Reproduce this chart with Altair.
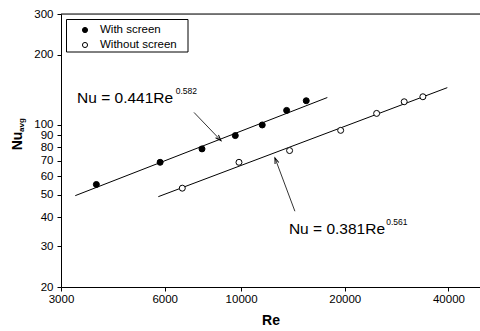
import altair as alt
import pandas as pd

FONT = "Liberation Sans"

# Measured data
re_with = [3800, 5820, 7700, 9620, 11520, 13560, 15460]
nu_with = [55.3, 68.9, 78.7, 89.8, 99.8, 115.3, 126.9]
re_without = [6750, 9860, 13830, 19460, 24750, 29760, 33720]
nu_without = [53.3, 68.9, 77.4, 94.6, 111.9, 125.6, 132.0]

# Fit lines (endpoints)
fit_re = [3300, 17800, 5750, 39700]
fit_nu = [49.5, 131.0, 49.0, 144.5]
fit_id = ["with", "with", "without", "without"]

# Arrows: tail and tip
arrow_re = [7300, 8740, 14330, 12540]
arrow_nu = [113.0, 85.5, 42.4, 72.0]
arrow_id = ["a1", "a1", "a2", "a2"]
tip_re = [8740, 12540]
tip_nu = [85.5, 72.0]
tip_angle = [136.6, 339.5]

# Equation labels
eq_main = ["Nu = 0.441Re", "Nu = 0.381Re"]
eq_re = [3340, 13770]
eq_nu = [124.4, 34.0]
eq_sup = ["0.582", "0.561"]
sup_re = [6460, 26400]
sup_nu = [136.0, 37.0]

# Legend
series_names = ["With screen", "Without screen"]
series_fill = ["black", "white"]

x_ticks = [3000, 6000, 10000, 20000, 40000]
y_ticks = [20, 30, 40, 50, 60, 70, 80, 90, 100, 200, 300]

pts = pd.DataFrame({
    "Re": re_with + re_without,
    "Nu": nu_with + nu_without,
    "series": [series_names[0]] * len(re_with) + [series_names[1]] * len(re_without),
})
fits = pd.DataFrame({"Re": fit_re, "Nu": fit_nu, "id": fit_id})
arrows = pd.DataFrame({"Re": arrow_re, "Nu": arrow_nu, "id": arrow_id})
tips = pd.DataFrame({"Re": tip_re, "Nu": tip_nu, "angle": tip_angle})
eqs = pd.DataFrame({"Re": eq_re, "Nu": eq_nu, "t": eq_main})
sups = pd.DataFrame({"Re": sup_re, "Nu": sup_nu, "t": eq_sup})

xscale = alt.Scale(type="log", domain=[3000, 49400], nice=False)
yscale = alt.Scale(type="log", domain=[20, 300], nice=False)
fill_scale = alt.Scale(domain=series_names, range=series_fill)

xenc = alt.X("Re:Q", scale=xscale, axis=alt.Axis(
    values=x_ticks, format="d", title="Re", grid=False,
    titleFont=FONT, titleFontSize=14, titleFontWeight="bold", titlePadding=9,
    labelFont=FONT, labelFontSize=11.5, labelPadding=2, tickSize=4,
    labelColor="black", tickColor="black", domainColor="black", titleColor="black",
    labelFlush=False, labelOverlap=False))
yenc = alt.Y("Nu:Q", scale=yscale, axis=alt.Axis(
    values=y_ticks, format="d", title=None, grid=False,
    labelFont=FONT, labelFontSize=11.5, labelPadding=4, tickSize=4,
    labelColor="black", tickColor="black", domainColor="black",
    labelFlush=False, labelOverlap=False))

fit_layer = alt.Chart(fits).mark_line(color="black", strokeWidth=1).encode(
    x=xenc, y=yenc, detail="id:N")

point_layer = alt.Chart(pts).mark_point(
    shape="circle", filled=True, stroke="black", strokeWidth=1, size=36, opacity=1
).encode(
    x="Re:Q", y="Nu:Q",
    fill=alt.Fill("series:N", scale=fill_scale, legend=None),
)

arrow_layer = alt.Chart(arrows).mark_line(color="black", strokeWidth=0.8).encode(
    x="Re:Q", y="Nu:Q", detail="id:N")

tip_layer = alt.Chart(tips).mark_point(
    shape="M-0.35,1L0,0L0.35,1", filled=False, stroke="black", strokeWidth=1, size=130, opacity=1
).encode(x="Re:Q", y="Nu:Q", angle=alt.Angle("angle:Q", scale=None))

eq_layer = alt.Chart(eqs).mark_text(
    font=FONT, fontSize=15.5, align="left", baseline="alphabetic", color="black"
).encode(x="Re:Q", y="Nu:Q", text="t:N")

sup_layer = alt.Chart(sups).mark_text(
    font=FONT, fontSize=8.5, align="left", baseline="alphabetic", color="black"
).encode(x="Re:Q", y="Nu:Q", text="t:N")

top_line = alt.Chart(pd.DataFrame({"a": [0]})).mark_rule(color="black", strokeWidth=1).encode(
    x=alt.value(0), x2=alt.value(419), y=alt.value(0))

# Legend drawn as a small framed box in the top-left corner
legend_layers = [
    alt.Chart(pd.DataFrame({"a": [0]})).mark_rect(
        fill="white", stroke="black", strokeWidth=1
    ).encode(x=alt.value(5.5), x2=alt.value(127), y=alt.value(5.5), y2=alt.value(38))
]
for i, (name, col) in enumerate(zip(series_names, series_fill)):
    row_y = 16 + i * 15
    one = pd.DataFrame({"series": [name]})
    legend_layers.append(
        alt.Chart(one).mark_point(
            shape="circle", filled=True, fill=col, stroke="black", strokeWidth=1, size=26, opacity=1
        ).encode(x=alt.value(24), y=alt.value(row_y))
    )
    legend_layers.append(
        alt.Chart(one).mark_text(
            font=FONT, fontSize=11.5, align="left", baseline="middle", color="black"
        ).encode(x=alt.value(39), y=alt.value(row_y), text="series:N")
    )

ytitle_nu = alt.Chart(pd.DataFrame({"t": ["Nu"]})).mark_text(
    font=FONT, fontSize=14, fontWeight="bold", angle=270, align="center",
    baseline="alphabetic", color="black"
).encode(x=alt.value(-39), y=alt.value(127), text="t:N")

ytitle_sub = alt.Chart(pd.DataFrame({"t": ["avg"]})).mark_text(
    font=FONT, fontSize=8, fontWeight="bold", angle=270, align="center",
    baseline="alphabetic", color="black"
).encode(x=alt.value(-37.5), y=alt.value(111), text="t:N")

chart = alt.layer(
    fit_layer, arrow_layer, tip_layer, point_layer, eq_layer, sup_layer,
    top_line, *legend_layers, ytitle_nu, ytitle_sub
).properties(
    width=419, height=273,
    autosize=alt.AutoSizeParams(type="none"),
    padding={"left": 61, "top": 14, "right": 0, "bottom": 44},
).configure_view(stroke=None).configure(background="white")

chart.save("out.html", embed_options={"renderer": "svg", "actions": False})
